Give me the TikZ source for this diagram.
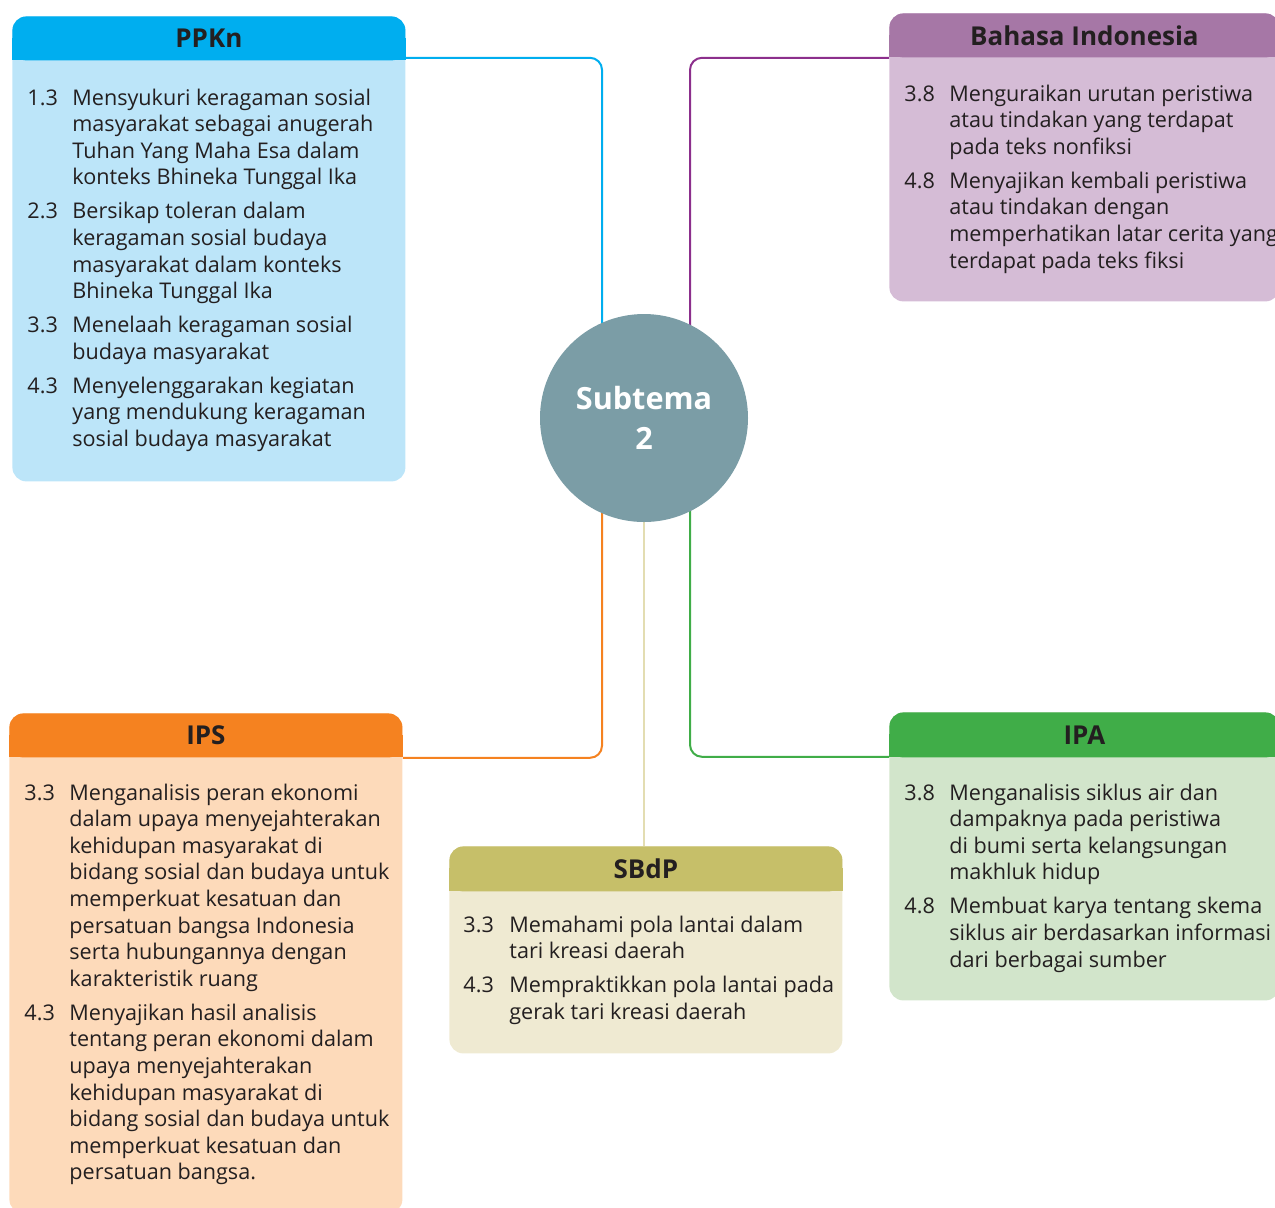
\documentclass[tikz,border=0pt]{standalone}
\usepackage{fontspec}
\setmainfont{Open Sans}
\usetikzlibrary{positioning,calc}

\definecolor{tx}{HTML}{231F20}
\definecolor{ppkkep}{HTML}{00AEEF}
\definecolor{ppkisi}{HTML}{BCE5F9}
\definecolor{binkep}{HTML}{A677A6}
\definecolor{binisi}{HTML}{D5BCD6}
\definecolor{bingrs}{HTML}{8C2F8C}
\definecolor{ipskep}{HTML}{F58220}
\definecolor{ipsisi}{HTML}{FDDABA}
\definecolor{sbdkep}{HTML}{C6BF69}
\definecolor{sbdisi}{HTML}{EFEAD2}
\definecolor{sbdgrs}{HTML}{E3DDB2}
\definecolor{ipakep}{HTML}{40AD48}
\definecolor{ipaisi}{HTML}{D2E5CB}
\definecolor{bulat}{HTML}{7B9DA6}

\begin{document}
\begin{tikzpicture}[x=0.5pt,y=-0.5pt,
  badan/.style={rectangle, rounded corners=7pt, inner sep=0, anchor=north west},
  kepala/.style={rectangle, rounded corners=7pt, inner sep=0, anchor=north west,
    minimum height=22pt, text=tx, font=\bfseries\fontsize{13}{15}\selectfont},
  isi/.style={anchor=base west, inner sep=0, text=tx, align=left,
    font=\fontsize{10.8}{13.3}\selectfont},
  garis/.style={line width=1pt, rounded corners=6pt}]
  \useasboundingbox (0,0) rectangle (1275,1207);
  \clip (0,0) rectangle (1275,1207);

  % kotak PPKn
  \node[badan, fill=ppkisi, minimum width=196.5pt, minimum height=232.5pt] (ppk) at (12,16) {};
  \fill[ppkkep] ([yshift=-11pt]ppk.north west) rectangle ([yshift=-22pt]ppk.north east);
  \node[kepala, fill=ppkkep, minimum width=196.5pt] (ppkh) at (12,16) {PPKn};
  \node[isi] (ppkt) at (27,105) {\begin{tabular}[t]{@{}p{22.5pt}@{}l@{}}
    1.3 & Mensyukuri keragaman sosial\\
        & masyarakat sebagai anugerah\\
        & Tuhan Yang Maha Esa dalam\\
        & konteks Bhineka Tunggal Ika\\[3.7pt]
    2.3 & Bersikap toleran dalam\\
        & keragaman sosial budaya\\
        & masyarakat dalam konteks\\
        & Bhineka Tunggal Ika\\[3.7pt]
    3.3 & Menelaah keragaman sosial\\
        & budaya masyarakat\\[3.7pt]
    4.3 & Menyelenggarakan kegiatan\\
        & yang mendukung keragaman\\
        & sosial budaya masyarakat
  \end{tabular}};

  % kotak Bahasa Indonesia
  \node[badan, fill=binisi, minimum width=195pt, minimum height=144pt] (bin) at (889,13) {};
  \fill[binkep] ([yshift=-11pt]bin.north west) rectangle ([yshift=-22pt]bin.north east);
  \node[kepala, fill=binkep, minimum width=195pt] (binh) at (889,13) {Bahasa Indonesia};
  \node[isi] (bint) at (904,101) {\begin{tabular}[t]{@{}p{22.5pt}@{}l@{}}
    3.8 & Menguraikan urutan peristiwa\\
        & atau tindakan yang terdapat\\
        & pada teks nonfiksi\\[3.7pt]
    4.8 & Menyajikan kembali peristiwa\\
        & atau tindakan dengan\\
        & memperhatikan latar cerita yang\\
        & terdapat pada teks fiksi
  \end{tabular}};

  % kotak IPS
  \node[badan, fill=ipsisi, minimum width=196.5pt, minimum height=250pt] (ips) at (9,713) {};
  \fill[ipskep] ([yshift=-11pt]ips.north west) rectangle ([yshift=-22pt]ips.north east);
  \node[kepala, fill=ipskep, minimum width=196.5pt] (ipsh) at (9,713) {IPS};
  \node[isi] (ipst) at (24,800) {\begin{tabular}[t]{@{}p{22.5pt}@{}l@{}}
    3.3 & Menganalisis peran ekonomi\\
        & dalam upaya menyejahterakan\\
        & kehidupan masyarakat di\\
        & bidang sosial dan budaya untuk\\
        & memperkuat kesatuan dan\\
        & persatuan bangsa Indonesia\\
        & serta hubungannya dengan\\
        & karakteristik ruang\\[3.7pt]
    4.3 & Menyajikan hasil analisis\\
        & tentang peran ekonomi dalam\\
        & upaya menyejahterakan\\
        & kehidupan masyarakat di\\
        & bidang sosial dan budaya untuk\\
        & memperkuat kesatuan dan\\
        & persatuan bangsa.
  \end{tabular}};

  % kotak SBdP
  \node[badan, fill=sbdisi, minimum width=196.5pt, minimum height=103.5pt] (sbd) at (449,846) {};
  \fill[sbdkep] ([yshift=-11pt]sbd.north west) rectangle ([yshift=-22.5pt]sbd.north east);
  \node[kepala, fill=sbdkep, minimum width=196.5pt, minimum height=22.5pt] (sbdh) at (449,846) {SBdP};
  \node[isi] (sbdt) at (463,932) {\begin{tabular}[t]{@{}p{23pt}@{}l@{}}
    3.3 & Memahami pola lantai dalam\\
        & tari kreasi daerah\\[3.7pt]
    4.3 & Mempraktikkan pola lantai pada\\
        & gerak tari kreasi daerah
  \end{tabular}};

  % kotak IPA
  \node[badan, fill=ipaisi, minimum width=195pt, minimum height=144pt] (ipa) at (889,712) {};
  \fill[ipakep] ([yshift=-11pt]ipa.north west) rectangle ([yshift=-22.5pt]ipa.north east);
  \node[kepala, fill=ipakep, minimum width=195pt, minimum height=22.5pt] (ipah) at (889,712) {IPA};
  \node[isi] (ipat) at (904,800) {\begin{tabular}[t]{@{}p{22.5pt}@{}l@{}}
    3.8 & Menganalisis siklus air dan\\
        & dampaknya pada peristiwa\\
        & di bumi serta kelangsungan\\
        & makhluk hidup\\[3.7pt]
    4.8 & Membuat karya tentang skema\\
        & siklus air berdasarkan informasi\\
        & dari berbagai sumber
  \end{tabular}};

  % lingkaran tengah, garis penghubung
  \coordinate (pusat) at (644,418);
  \draw[garis, ppkkep] ([yshift=1.5pt]ppkh.south east) -| ([xshift=-21pt]pusat);
  \draw[garis, bingrs] (binh.south west) -| ([xshift=23pt]pusat);
  \draw[garis, ipskep] (ipsh.south east) -| ([xshift=-21pt]pusat);
  \draw[garis, ipakep] ([yshift=0.5pt]ipah.south west) -| ([xshift=23pt]pusat);
  \draw[garis, sbdgrs] (pusat) -- (pusat |- sbdh.north);
  \node[circle, fill=bulat, minimum size=104pt, inner sep=0, text=white, align=center,
    font=\bfseries\fontsize{15.3}{20}\selectfont] (sub) at (pusat) {Subtema\\2};
\end{tikzpicture}
\end{document}
